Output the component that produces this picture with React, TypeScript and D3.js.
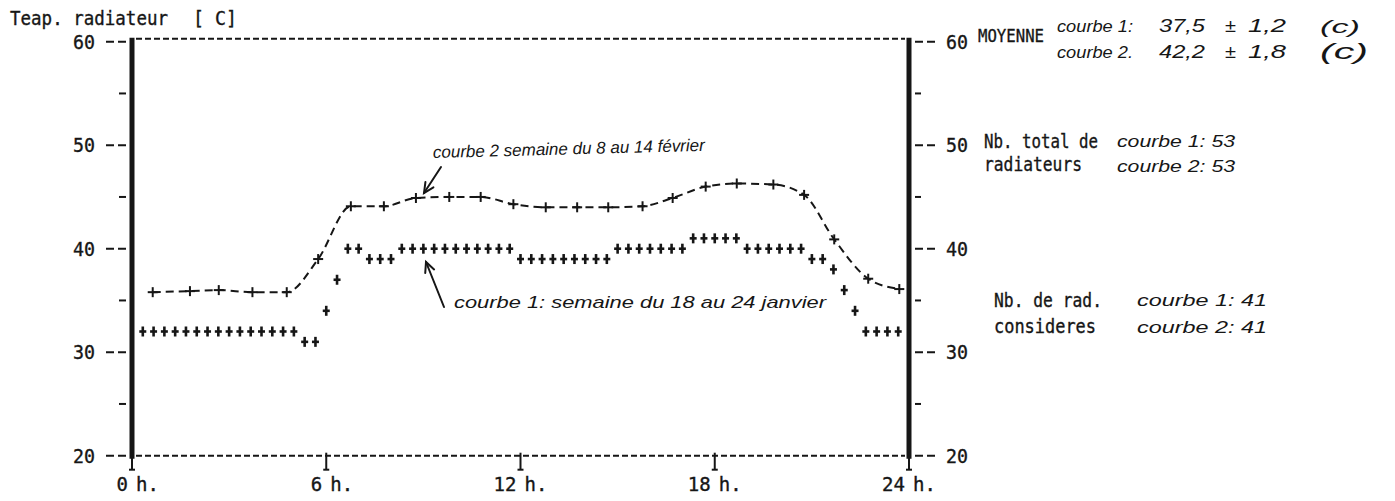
import React from "react";
import * as d3 from "d3";

// Radiator temperature over one day, two measuring weeks.
// Curve 1: 20-minute samples (plotted as "+" only).
// Curve 2: hourly samples joined by a dashed line.

const X_TICKS = [0, 6, 12, 18, 24];
const X_TICK_LABELS = ["0", "6", "12", "18", "24"];
const Y_MAJOR = [20, 30, 40, 50, 60];
const Y_MAJOR_LABELS = ["20", "30", "40", "50", "60"];
const Y_MINOR = [25, 35, 45, 55];

// curve 1 — semaine du 18 au 24 janvier (one value every 20 min, from 0 h 20)
const CURVE1_VALUES = [
  32, 32, 32, 32, 32, 32, 32, 32, 32, 32, 32, 32, 32, 32, 32,
  31, 31, 34, 37, 40, 40, 39, 39, 39,
  40, 40, 40, 40, 40, 40, 40, 40, 40, 40, 40,
  39, 39, 39, 39, 39, 39, 39, 39, 39,
  40, 40, 40, 40, 40, 40, 40,
  41, 41, 41, 41, 41,
  40, 40, 40, 40, 40, 40,
  39, 39, 38, 36, 34,
  32, 32, 32, 32,
];
const CURVE1_HOURS = d3.range(1, CURVE1_VALUES.length + 1).map((i) => i / 3);

// curve 2 — semaine du 8 au 14 février (hourly)
const CURVE2_HOURS = [
  0.64, 1.79, 2.68, 3.72, 4.78, 5.75, 6.76, 7.78, 8.77, 9.8, 10.77, 11.78,
  12.78, 13.75, 14.71, 15.77, 16.7, 17.72, 18.68, 19.81, 20.76, 21.69, 22.74, 23.7,
];
const CURVE2_VALUES = [
  35.8, 35.9, 36.0, 35.8, 35.8, 39.0, 44.1, 44.1, 44.9, 45.0, 45.0, 44.3,
  44.0, 44.0, 44.0, 44.1, 44.9, 46.0, 46.3, 46.2, 45.2, 40.9, 37.1, 36.1,
];

// summary figures
const MEAN_1 = ["37,5", "1,2"];
const MEAN_2 = ["42,2", "1,8"];
const TOTAL_RAD = ["53", "53"];
const USED_RAD = ["41", "41"];

const W = 1395;
const H = 501;
const MONO = "'DejaVu Sans Mono', 'Liberation Mono', monospace";
const HAND = "'Liberation Sans', 'DejaVu Sans', sans-serif";
const INK = "#161616";

function Mono({ x, y, w, size = 19, children }: any) {
  return (
    <text
      x={x}
      y={y}
      fontFamily={MONO}
      fontSize={size}
      fill={INK}
      stroke={INK}
      strokeWidth={0.35}
      textLength={w}
      lengthAdjust="spacingAndGlyphs"
    >
      {children}
    </text>
  );
}

function Hand({ x, y, w, size = 17, rotate = 0, children }: any) {
  return (
    <text
      x={x}
      y={y}
      fontFamily={HAND}
      fontStyle="italic"
      fontSize={size}
      fill={INK}
      textLength={w}
      lengthAdjust="spacingAndGlyphs"
      transform={rotate ? `rotate(${rotate} ${x} ${y})` : undefined}
    >
      {children}
    </text>
  );
}

function Arrow({ x1, y1, x2, y2 }: any) {
  const a = Math.atan2(y2 - y1, x2 - x1);
  const L = 11;
  const s = 0.45;
  const p1 = [x2 - L * Math.cos(a - s), y2 - L * Math.sin(a - s)];
  const p2 = [x2 - L * Math.cos(a + s), y2 - L * Math.sin(a + s)];
  return (
    <g stroke={INK} strokeWidth={2} fill="none" strokeLinecap="round">
      <line x1={x1} y1={y1} x2={x2} y2={y2} />
      <polyline points={`${p1[0]},${p1[1]} ${x2},${y2} ${p2[0]},${p2[1]}`} />
    </g>
  );
}

function MeanRow({ y, label, values, big = false }: any) {
  return (
    <g>
      <Hand x={1057} y={y} w={76}>{label}</Hand>
      <Hand x={1159} y={y} w={46} size={18}>{values[0]}</Hand>
      <Hand x={1225} y={y} w={11} size={18}>±</Hand>
      <Hand x={1248} y={y} w={38} size={18}>{values[1]}</Hand>
      <Hand x={1320} y={y + 1} w={big ? 48 : 40} size={big ? 22 : 19}>(c)</Hand>
    </g>
  );
}

export default function App() {
  const x = d3.scaleLinear().domain([0, 24]).range([132, 909]);
  const y = d3.scaleLinear().domain([20, 60]).range([455.7, 41.7]);

  const x0 = x(0);
  const x1 = x(24);
  const yTop = y(60);
  const yBot = y(20);

  const curve2 = CURVE2_HOURS.map((h, i) => [x(h), y(CURVE2_VALUES[i])] as [number, number]);
  const line2 = d3.line().curve(d3.curveMonotoneX)(curve2) || "";

  return (
    <svg
      width={W}
      height={H}
      viewBox={`0 0 ${W} ${H}`}
      style={{ position: "absolute", left: 0, top: 0, background: "#fff" }}
    >
      <rect width={W} height={H} fill="#fff" />

      {/* axis title */}
      <Mono x={10} y={25} w={158}>Teap. radiateur</Mono>
      <Mono x={193} y={25} w={44}>[ C]</Mono>

      {/* frame: dashed top/bottom, heavy verticals */}
      <g stroke={INK} strokeWidth={2} strokeDasharray="6 3">
        <line x1={x0 + 4} x2={x1 - 4} y1={yTop - 3} y2={yTop - 3} />
        <line x1={x0 + 4} x2={x1 - 4} y1={yBot} y2={yBot} />
      </g>
      <g stroke={INK} strokeWidth={5}>
        <line x1={x0} x2={x0} y1={yTop - 4} y2={yBot + 3} />
        <line x1={x1} x2={x1} y1={yTop - 4} y2={yBot + 3} />
      </g>

      {/* y ticks, left and right */}
      <g stroke={INK} strokeWidth={2}>
        {Y_MAJOR.map((v) => (
          <g key={"M" + v}>
            <line x1={106} x2={126} y1={y(v)} y2={y(v)} strokeDasharray="8 4" />
            <line x1={915} x2={935} y1={y(v)} y2={y(v)} strokeDasharray="8 4" />
          </g>
        ))}
        {Y_MINOR.map((v) => (
          <g key={"m" + v}>
            <line x1={119} x2={126} y1={y(v)} y2={y(v)} />
            <line x1={915} x2={921} y1={y(v)} y2={y(v)} />
          </g>
        ))}
      </g>
      {Y_MAJOR.map((v, i) => (
        <g key={"l" + v}>
          <Mono x={73} y={y(v) + 7} w={22}>{Y_MAJOR_LABELS[i]}</Mono>
          <Mono x={946} y={y(v) + 7} w={22}>{Y_MAJOR_LABELS[i]}</Mono>
        </g>
      ))}

      {/* x ticks and hour labels */}
      {X_TICKS.map((h, i) => (
        <g key={"x" + h}>
          <g stroke={INK} strokeWidth={2}>
            <line x1={x(h)} x2={x(h)} y1={yBot - 3} y2={yBot + 14} />
            <line x1={x(h) - 3} x2={x(h) + 3} y1={yBot + 14} y2={yBot + 14} />
          </g>
          <text
            x={x(h) - 4}
            y={yBot + 35}
            fontFamily={MONO}
            fontSize={19}
            fill={INK}
            stroke={INK}
            strokeWidth={0.35}
            textAnchor="end"
          >
            {X_TICK_LABELS[i]}
          </text>
          <text
            x={x(h) + 4}
            y={yBot + 35}
            fontFamily={MONO}
            fontSize={19}
            fill={INK}
            stroke={INK}
            strokeWidth={0.35}
          >
            h.
          </text>
        </g>
      ))}

      {/* curve 2: dashed line with + markers */}
      <path d={line2} fill="none" stroke={INK} strokeWidth={2} strokeDasharray="8 5" />
      <g stroke={INK} strokeWidth={2}>
        {curve2.map(([px, py], i) => (
          <g key={"c2" + i}>
            <line x1={px - 5} x2={px + 5} y1={py} y2={py} />
            <line x1={px} x2={px} y1={py - 5} y2={py + 5} />
          </g>
        ))}
      </g>

      {/* curve 1: + markers only */}
      <g stroke={INK} strokeWidth={2.6}>
        {CURVE1_HOURS.map((h, i) => {
          const px = x(h);
          const py = y(CURVE1_VALUES[i]);
          return (
            <g key={"c1" + i}>
              <line x1={px - 3.5} x2={px + 3.5} y1={py} y2={py} />
              <line x1={px} x2={px} y1={py - 5} y2={py + 5} />
            </g>
          );
        })}
      </g>

      {/* annotations on the plot */}
      <Hand x={433} y={158} w={272} size={17} rotate={-1.5}>
        courbe 2  semaine du 8 au 14 février
      </Hand>
      <Arrow x1={441} y1={167} x2={424} y2={193} />
      <Hand x={454} y={308} w={372} size={17}>
        courbe 1: semaine du 18 au 24 janvier
      </Hand>
      <Arrow x1={444} y1={307} x2={426} y2={262} />

      {/* summary block */}
      <Mono x={978} y={42} w={66} size={18}>MOYENNE</Mono>
      <MeanRow y={32} label="courbe 1:" values={MEAN_1} />
      <MeanRow y={58} label="courbe 2." values={MEAN_2} big />

      <Mono x={984} y={148} w={114}>Nb. total de</Mono>
      <Mono x={984} y={171} w={98}>radiateurs</Mono>
      <Hand x={1117} y={147} w={118}>{`courbe 1:  ${TOTAL_RAD[0]}`}</Hand>
      <Hand x={1117} y={172} w={118}>{`courbe 2:  ${TOTAL_RAD[1]}`}</Hand>

      <Mono x={994} y={307} w={108}>Nb. de rad.</Mono>
      <Mono x={994} y={333} w={102}>consideres</Mono>
      <Hand x={1137} y={306} w={130}>{`courbe 1:   ${USED_RAD[0]}`}</Hand>
      <Hand x={1137} y={333} w={130}>{`courbe 2:   ${USED_RAD[1]}`}</Hand>
    </svg>
  );
}
